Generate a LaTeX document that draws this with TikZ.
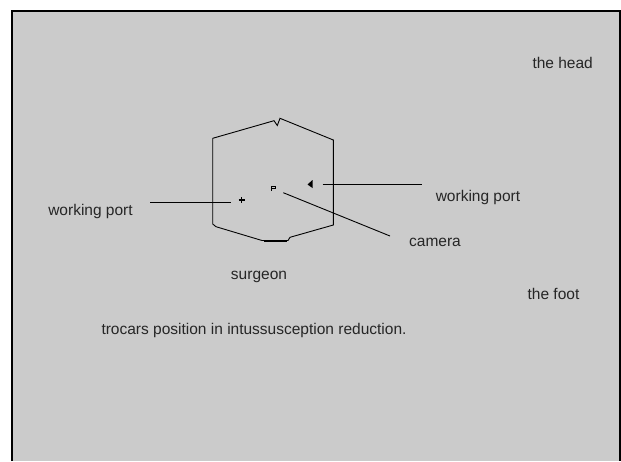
\documentclass[tikz,border=0pt]{standalone}
\usepackage{fontspec}
\setmainfont{Liberation Sans}
\begin{document}
\begin{tikzpicture}[x=1pt,y=-1pt,
  lbl/.style={inner sep=0pt,font=\fontsize{15.5}{18}\selectfont,text=black!85},
  thin line/.style={draw=black,line width=0.9pt},
  frameline/.style={draw=black,line width=2pt}]
\useasboundingbox (0,0) rectangle (621,461);
\fill[white] (0,0) rectangle (621,461);
\fill[fill={rgb,255:red,203;green,203;blue,203}] (11.5,10.5) rectangle (619.5,461);
\draw[frameline] (11.5,461) -- (11.5,10.5) -- (619.5,10.5) -- (619.5,461);
% hexagon (patient outline)
\draw[thin line] (212.7,138.3) -- (274,120.7) -- (277.3,125.5) -- (280,118.3) -- (333.3,140)
  -- (333.3,225) -- (290,237.3) -- (288,240.5) -- (262,240.5) -- (216,226.7) -- (212.7,224) -- cycle;
\draw[line width=2pt] (264,240.8) -- (287,240.8);
% markers
\draw[line width=1.4pt] (238.7,200) -- (244.7,200) (241.7,197) -- (241.7,203);
\fill (307.5,184.5) -- (312.5,180) -- (312.5,188) -- cycle;
\draw[line width=1pt] (271,190.5) -- (271,186.5) -- (275,186.5) -- (275,188.5) -- (272,188.5);
% labels
\node[lbl] (head) at (562.7,63) {the head};
\node[lbl] (wpl) at (90.5,211) {working port};
\node[lbl] (wpr) at (478,197) {working port};
\node[lbl] (cam) at (435,242) {camera};
\node[lbl] (surg) at (259,277) {surgeon};
\node[lbl] (foot) at (553.5,294) {the foot};
\node[lbl] (cap) at (254,330) {trocars position in intussusception reduction.};
% connectors
\coordinate (wplA) at (150,202);
\coordinate (wplB) at (231,202);
\coordinate (wprA) at (322.7,184.5);
\coordinate (wprB) at (422,184.5);
\coordinate (camA) at (283.3,192.7);
\coordinate (camB) at (390,236);
\draw[thin line] (wplA) -- (wplB);
\draw[thin line] (wprA) -- (wprB);
\draw[thin line] (camA) -- (camB);
\end{tikzpicture}
\end{document}
